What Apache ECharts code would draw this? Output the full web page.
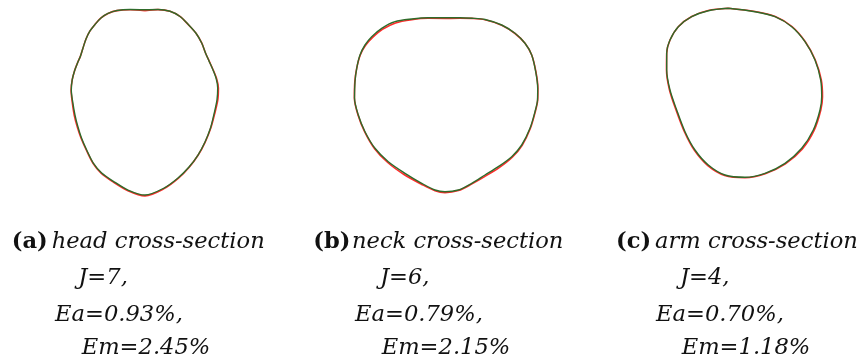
<!DOCTYPE html>
<html>
<head>
<meta charset="utf-8">
<script src="https://cdn.jsdelivr.net/npm/echarts@6/dist/echarts.min.js"></script>
<style>
  html, body { margin: 0; padding: 0; background: #ffffff; }
  #chart { width: 864px; height: 362px; }
</style>
</head>
<body>
<div id="chart"></div>
<script>
// Cross-section contours, in units centred on each section (y up).
// "Ref" = measured outline (red), "Fit" = reconstructed outline (green).
const headRef = [
  [0.5, 91.6], [13.5, 92.6], [25.5, 91.0], [35.5, 85.8], [43.8, 77.6], [51.5, 69.0],
  [57.2, 59.3], [61.0, 49.3], [64.6, 41.3], [68.7, 32.3], [72.2, 23.3], [73.9, 14.3],
  [73.3, 2.3], [70.1, -11.8], [66.3, -25.8], [60.7, -39.8], [53.7, -52.8], [44.7, -65.0],
  [33.7, -76.2], [19.6, -86.4], [0.5, -93.6], [-16.6, -88.4], [-31.8, -79.4], [-43.2, -71.2],
  [-51.5, -61.0], [-58.1, -48.0], [-63.5, -35.8], [-67.2, -24.8], [-70.3, -12.8], [-72.3, 0.3],
  [-73.4, 12.3], [-72.3, 22.3], [-70.0, 31.3], [-67.0, 39.3], [-64.0, 46.3], [-61.5, 54.3],
  [-58.5, 63.3], [-54.5, 71.3], [-49.5, 77.8], [-43.5, 84.3], [-36.5, 88.8], [-27.5, 91.6],
  [-14.5, 92.5], [0.5, 91.6]
];
const headFit = [
  [0.5, 92.5], [13.5, 92.8], [25.5, 91.0], [35.5, 85.8], [43.8, 77.8], [51.5, 69.0],
  [57.2, 59.3], [61.0, 49.3], [64.5, 41.3], [68.5, 32.3], [71.8, 23.3], [73.2, 14.3],
  [72.5, 2.3], [69.5, -11.8], [66.0, -25.8], [60.5, -39.8], [53.5, -52.8], [44.5, -64.8],
  [33.5, -75.8], [19.5, -85.8], [0.5, -92.8], [-16.5, -87.8], [-31.5, -78.8], [-42.8, -70.8],
  [-51.2, -60.8], [-57.8, -47.8], [-63.0, -35.8], [-66.5, -24.8], [-69.5, -12.8], [-71.8, 0.3],
  [-73.2, 12.3], [-72.3, 22.3], [-70.0, 31.3], [-67.0, 39.3], [-64.0, 46.3], [-61.5, 54.3],
  [-58.5, 63.3], [-54.5, 71.3], [-49.5, 77.8], [-43.5, 84.3], [-36.5, 88.8], [-27.5, 91.8],
  [-14.5, 92.8], [0.5, 92.5]
];
const neckRef = [
  [0, 86.2], [14, 86.5], [26, 86.3], [39, 85.0], [55.7, 79.5], [69, 71.2],
  [79, 61.4], [85.7, 49.7], [89.9, 33], [91.9, 16.4], [91.7, 4.7], [89.3, -7],
  [84.4, -23.6], [76.2, -40.6], [66.3, -52.6], [53.2, -63.0], [39.8, -71.2], [26.0, -79.2],
  [12.4, -85.9], [-1, -88.0], [-11, -86.1], [-24.6, -79.5], [-42.0, -69.8], [-58.3, -57.8],
  [-71.4, -44.0], [-81.3, -27.2], [-88.0, -10.3], [-91.6, 6.7], [-91.2, 23], [-89.3, 36.4],
  [-85.8, 49.5], [-80.6, 59.2], [-73.6, 67.0], [-63.6, 75.3], [-50.5, 81.8], [-34.2, 85.0],
  [-18, 86.4], [0, 86.2]
];
const neckFit = [
  [0, 87], [14, 87], [26, 86.5], [39, 85.2], [55.7, 79.7], [69, 71.4],
  [79, 61.4], [85.7, 49.7], [89.7, 33], [91.7, 16.4], [91.5, 4.7], [89, -7],
  [84, -23.6], [75.7, -40.3], [65.7, -52], [52.3, -62], [39, -70.3], [25.7, -78.6],
  [12.3, -85.3], [-1, -87], [-11, -85.3], [-24.3, -78.6], [-41, -68.6], [-57.7, -57],
  [-71, -43.6], [-81, -27], [-87.7, -10.3], [-91.5, 6.7], [-91, 23], [-89.3, 36.4],
  [-86, 49.7], [-81, 59.7], [-74.3, 68], [-64.3, 76.4], [-51, 83], [-34.3, 85.7],
  [-18, 87], [0, 87]
];
const armRef = [
  [-16, 84.5], [10.7, 81.3], [30.9, 76.4], [47.7, 66.3], [61.0, 51.1], [71.0, 32.8],
  [77.0, 12.8], [78.2, -3.9], [76.5, -17.2], [69.8, -37.6], [58.1, -56.1], [41.1, -71.0],
  [20.9, -80.9], [0.7, -84.9], [-19.6, -82.7], [-36.5, -72.8], [-49.9, -57.6], [-59.8, -39.2],
  [-68.2, -17.4], [-74.8, 2.8], [-77.8, 22.8], [-77.6, 39.5], [-74.3, 52.8], [-66, 66.1],
  [-52.6, 76.3], [-36, 82.3], [-16, 84.5]
];
const armFit = [
  [-16, 84.5], [10.7, 81.1], [30.7, 76.1], [47.4, 66.1], [60.7, 51.1], [70.7, 32.8],
  [76.4, 12.8], [77.4, -3.9], [75.7, -17.2], [69, -37.2], [57.4, -55.5], [40.7, -70.5],
  [20.7, -80.5], [0.7, -84.5], [-19.3, -82.2], [-36, -72.2], [-49.3, -57.2], [-59.3, -38.9],
  [-67.6, -17.2], [-74.3, 2.8], [-77.6, 22.8], [-77.6, 39.5], [-74.3, 52.8], [-66, 66.1],
  [-52.6, 76.1], [-36, 82.1], [-16, 84.5]
];

// Caption text
const panelTags = ['(a)', '(b)', '(c)'];
const panelNames = ['head cross-section', 'neck cross-section', 'arm cross-section'];
const jValues = ['J=7,', 'J=6,', 'J=4,'];
const eaValues = ['Ea=0.93%,', 'Ea=0.79%,', 'Ea=0.70%,'];
const emValues = ['Em=2.45%', 'Em=2.15%', 'Em=1.18%'];

// Layout: centre of each section on the page and caption offsets
const layout = [
  { cx: 144.5, cy: 102.25, tagX: 11.7, nameX: 51.7, jX: 78.3, eaX: 55.0, emX: 81.7 },
  { cx: 446.0, cy: 104.7, tagX: 313.3, nameX: 352.0, jX: 380.0, eaX: 355.0, emX: 381.7 },
  { cx: 744.3, cy: 92.8, tagX: 616.0, nameX: 655.0, jX: 680.0, eaX: 656.0, emX: 681.7 }
];
const contours = [[headRef, headFit], [neckRef, neckFit], [armRef, armFit]];

const RED = '#ff2b2b';
const GREEN = '#2f6b2a';
const HALF_W = 100, GRID_H = 215;

const grids = [], xAxes = [], yAxes = [], series = [];
layout.forEach((p, i) => {
  grids.push({ left: p.cx - HALF_W, top: 0, width: 2 * HALF_W, height: GRID_H });
  xAxes.push({ type: 'value', gridIndex: i, min: -HALF_W, max: HALF_W, show: false });
  yAxes.push({ type: 'value', gridIndex: i, min: p.cy - GRID_H, max: p.cy, show: false });
  const [ref, fit] = contours[i];
  series.push({
    type: 'line', xAxisIndex: i, yAxisIndex: i, data: ref, showSymbol: false,
    smooth: 0.3, lineStyle: { color: RED, width: 1.6 }, silent: true, z: 2
  });
  series.push({
    type: 'line', xAxisIndex: i, yAxisIndex: i, data: fit, showSymbol: false,
    smooth: 0.3, lineStyle: { color: GREEN, width: 1.4 }, silent: true, z: 3
  });
});

const FS = 22.6;
const SERIF = '"DejaVu Serif", serif';
const lineMid = [242.0, 277.8, 315.0, 348.5];
const graphics = [];
layout.forEach((p, i) => {
  const txt = (x, y, t, weight, style) => graphics.push({
    type: 'text', x: x, y: y, silent: true,
    style: {
      text: t, fill: '#111111', font: `${style} ${weight} ${FS}px ${SERIF}`,
      align: 'left', verticalAlign: 'middle'
    }
  });
  txt(p.tagX, lineMid[0], panelTags[i], 'bold', 'normal');
  txt(p.nameX, lineMid[0], panelNames[i], 'normal', 'italic');
  txt(p.jX, lineMid[1], jValues[i], 'normal', 'italic');
  txt(p.eaX, lineMid[2], eaValues[i], 'normal', 'italic');
  txt(p.emX, lineMid[3], emValues[i], 'normal', 'italic');
});

const chart = echarts.init(document.getElementById('chart'), null, { renderer: 'canvas' });
chart.setOption({
  animation: false,
  backgroundColor: '#ffffff',
  grid: grids,
  xAxis: xAxes,
  yAxis: yAxes,
  series: series,
  graphic: graphics
});
</script>
</body>
</html>
